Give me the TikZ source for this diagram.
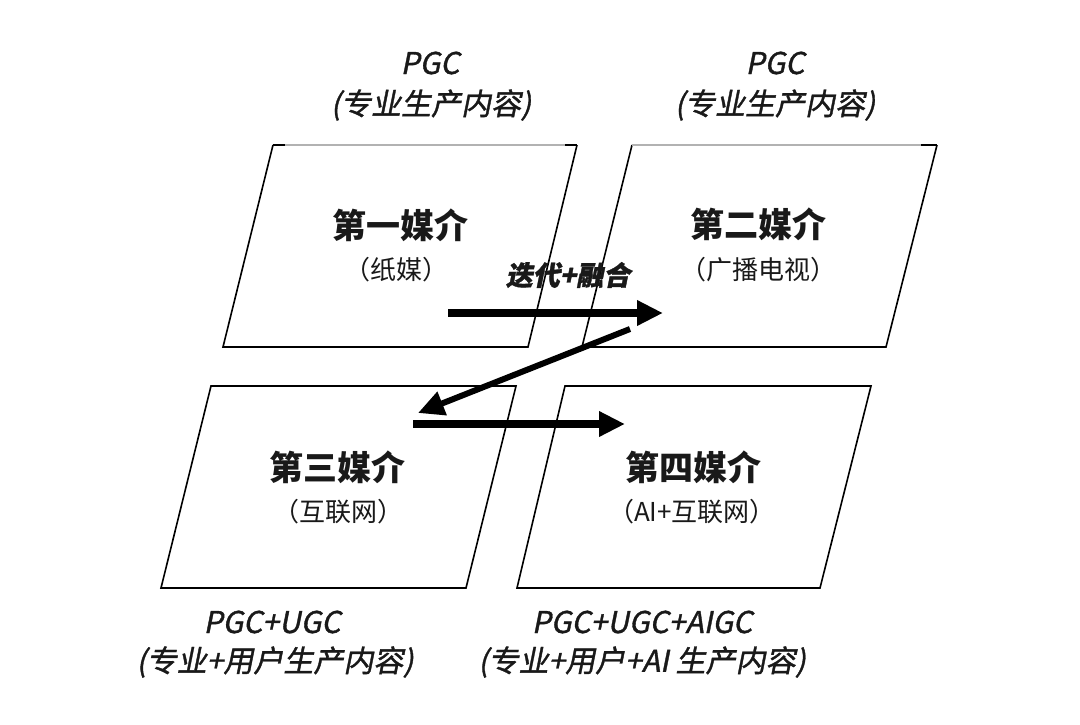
\documentclass[tikz,border=0pt]{standalone}
\usepackage{fontspec}
\newfontfamily\cjk{Noto Sans CJK SC}
\newfontfamily\cjkslant{Noto Sans CJK SC}[FakeSlant=0.2,FakeBold=1.2]
\usetikzlibrary{arrows.meta, positioning}

\begin{document}
\begin{tikzpicture}[x=1pt,y=-1pt,
	frame/.style={draw=black,line width=1.6pt},
	faint/.style={draw=black!30,line width=1.2pt},
	title/.style={font=\cjk\bfseries\fontsize{34}{38}\selectfont,text=black!90,inner sep=0pt},
	sub/.style={font=\cjk\fontsize{26}{30}\selectfont,text=black!90,inner sep=0pt},
	tag/.style={font=\cjkslant\fontsize{30}{34}\selectfont,text=black!90,inner sep=0pt},
	bigarrow/.style={line width=8pt,-{Triangle[length=26pt,width=24pt]}}]
	\useasboundingbox (0,0) rectangle (1080,724);
	
	% First medium
	\draw[frame] (273,145) -- (223,347) -- (528,347) -- (577,145);
	\draw[faint] (273,145) -- (577,145);
	\draw[frame] (273,145) -- ++(12,0);
	\draw[frame] (577,145) -- ++(-12,0);
	\node (m1) at (400,225) [title] {第一媒介};
	\node (m1sub) at (396,270) [sub] {（纸媒）};
	
	% Second medium
	\draw[frame] (632,145) -- (582,347) -- (886,347) -- (937,145);
	\draw[faint] (632,145) -- (937,145);
	\draw[frame] (937,145) -- ++(-16,0);
	\node (m2) at (758,224) [title] {第二媒介};
	\node (m2sub) at (758,270) [sub] {（广播电视）};
	
	% Third medium
	\draw[frame] (211,386) -- (161,588) -- (466,588) -- (516,386) -- cycle;
	\node (m3) at (337,467) [title] {第三媒介};
	\node (m3sub) at (338,512) [sub] {（互联网）};
	
	% Fourth medium
	\draw[frame] (565,386) -- (517,588) -- (820,588) -- (871,386) -- cycle;
	\node (m4) at (693,467) [title] {第四媒介};
	\node (m4sub) at (692,512) [sub] {（AI+互联网）};
	
	% Content labels
	\node (pgc1) at (430,63) [tag] {PGC};
	\node (pgc1sub) at (431,105) [tag] {(专业生产内容)};
	\node (pgc2) at (775,63) [tag] {PGC};
	\node (pgc2sub) at (775,105) [tag] {(专业生产内容)};
	\node (ugc) at (272,622) [tag] {PGC+UGC};
	\node (ugcsub) at (275,662) [tag] {(专业+用户生产内容)};
	\node (aigc) at (642,622) [tag] {PGC+UGC+AIGC};
	\node (aigcsub) at (642,662) [tag] {(专业+用户+AI 生产内容)};
	
	% Arrows
	\coordinate (a1s) at (448,313);
	\coordinate (a1e) at (663,313);
	\coordinate (a2s) at (630,329);
	\coordinate (a2e) at (418,413);
	\coordinate (a3s) at (413,424);
	\coordinate (a3e) at (625,424);
	\draw[bigarrow] (a1s) -- (a1e);
	\draw[bigarrow,line width=6pt] (a2s) -- (a2e);
	\draw[bigarrow] (a3s) -- (a3e);
	\node (iter) at (568,275) [tag,font=\cjkslant\bfseries\fontsize{27}{30}\selectfont] {迭代+融合};
\end{tikzpicture}
\end{document}
